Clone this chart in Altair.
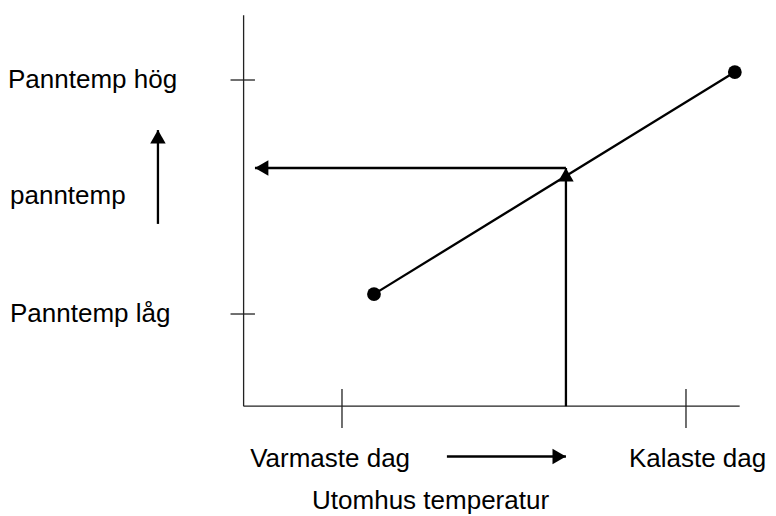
import altair as alt
import pandas as pd

# ---- diagram data (diagram units: both axes have ticks at 0 and 10) ----
x_ticks = [0, 10]
x_tick_labels = ["Varmaste dag", "Kalaste dag"]
y_ticks = [0, 10]
y_tick_labels = ["Panntemp låg", "Panntemp hög"]
y_title = "panntemp"
x_title = "Utomhus temperatur"

curve_x = [0.93, 11.42]     # outdoor temperature of the two curve end points
curve_y = [0.85, 10.34]     # boiler temperature of the two curve end points

op_x = 6.51                 # chosen outdoor temperature (vertical arrow)
op_y = 6.24                 # resulting boiler temperature (horizontal arrow)

axis_x = [-2.86, 11.56]     # extent of the drawn x axis
axis_y = [-3.94, 12.77]     # extent of the drawn y axis

# ---- layout ----
W, H = 760, 508
X_DOM = [-9.709, 12.384]
Y_DOM = [-8.632, 13.077]
FONT = "Liberation Sans"
FS = 26

xs = alt.Scale(domain=X_DOM, nice=False, zero=False)
ys = alt.Scale(domain=Y_DOM, nice=False, zero=False)


def X(f="x"):
    return alt.X(f"{f}:Q", scale=xs, axis=None)


def Y(f="y"):
    return alt.Y(f"{f}:Q", scale=ys, axis=None)


# axes lines
axis_df = pd.DataFrame({
    "x": [axis_x[0], axis_x[0]], "x2": [axis_x[0], axis_x[1]],
    "y": [axis_y[0], axis_y[0]], "y2": [axis_y[1], axis_y[0]],
})
axes = alt.Chart(axis_df).mark_rule(color="#222", strokeWidth=1.3).encode(
    x=X(), x2="x2:Q", y=Y(), y2="y2:Q")

# tick marks (cross the axis)
ytick_df = pd.DataFrame({"y": y_ticks, "x": [axis_x[0] - 0.38] * 2, "x2": [axis_x[0] + 0.33] * 2})
yticks = alt.Chart(ytick_df).mark_rule(color="#222", strokeWidth=1.3).encode(
    x=X(), x2="x2:Q", y=Y())
xtick_df = pd.DataFrame({"x": x_ticks, "y": [axis_y[0] + 0.74] * 2, "y2": [axis_y[0] - 0.93] * 2})
xticks = alt.Chart(xtick_df).mark_rule(color="#222", strokeWidth=1.3).encode(
    x=X(), y=Y(), y2="y2:Q")

# heating curve
curve_df = pd.DataFrame({"x": curve_x, "y": curve_y})
curve = alt.Chart(curve_df).mark_line(color="black", strokeWidth=2.3).encode(x=X(), y=Y())
dots = alt.Chart(curve_df).mark_circle(color="black", opacity=1, size=190).encode(x=X(), y=Y())

# arrows: shafts
tip_left = axis_x[0] + 0.33
shaft_df = pd.DataFrame({
    "x":  [op_x, op_x, 3.05, -5.35],
    "x2": [op_x, tip_left, 6.51, -5.35],
    "y":  [axis_y[0], op_y, -6.09, 3.85],
    "y2": [op_y, op_y, -6.09, 7.86],
})
shafts = alt.Chart(shaft_df).mark_rule(color="black", strokeWidth=2.3).encode(
    x=X(), x2="x2:Q", y=Y(), y2="y2:Q")

S = 240
OFF = 6.7
head_up = alt.Chart(pd.DataFrame({"x": [op_x, -5.35], "y": [op_y, 7.86]})).mark_point(
    shape="triangle-up", filled=True, color="black", opacity=1, size=S, strokeWidth=0,
    yOffset=OFF).encode(x=X(), y=Y())
head_left = alt.Chart(pd.DataFrame({"x": [tip_left], "y": [op_y]})).mark_point(
    shape="triangle-left", filled=True, color="black", opacity=1, size=S, strokeWidth=0,
    xOffset=OFF).encode(x=X(), y=Y())
head_right = alt.Chart(pd.DataFrame({"x": [6.51], "y": [-6.09]})).mark_point(
    shape="triangle-right", filled=True, color="black", opacity=1, size=S, strokeWidth=0,
    xOffset=-OFF).encode(x=X(), y=Y())

# texts
ylab_df = pd.DataFrame({"y": y_ticks + [5.03], "t": y_tick_labels + [y_title],
                        "px": [2, 0, 2]})
ylabels = alt.Chart(ylab_df).mark_text(
    align="left", baseline="middle", font=FONT, fontSize=FS, color="black").encode(
    x=alt.X("px:Q", scale=None), y=Y(), text="t:N")

xlab_df = pd.DataFrame({"x": [-2.67, 8.34, -0.87], "y": [-6.2, -6.2, -7.97],
                        "t": x_tick_labels + [x_title]})
xlabels = alt.Chart(xlab_df).mark_text(
    align="left", baseline="middle", font=FONT, fontSize=FS, color="black").encode(
    x=X(), y=Y(), text="t:N")

chart = alt.layer(
    axes, yticks, xticks, shafts, head_up, head_left, head_right,
    curve, dots, ylabels, xlabels
).properties(
    width=W, height=H, padding=0, autosize=alt.AutoSizeParams(type="none"),
    background="white"
).configure_view(strokeWidth=0)

chart.save("out.html", embed_options={"renderer": "svg", "actions": False})
